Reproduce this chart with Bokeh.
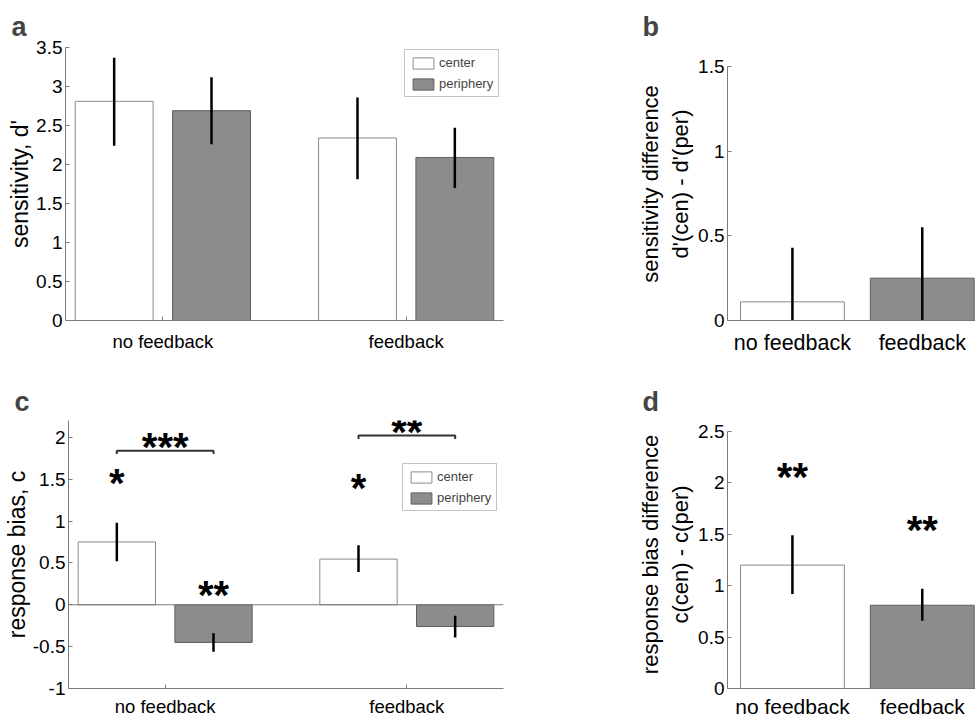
from bokeh.plotting import figure
from bokeh.layouts import row, column
from bokeh.models import Range1d, FixedTicker, CustomJSTickFormatter, Span, Legend, LegendItem
from bokeh.core.properties import value
from bokeh.embed import file_html
from bokeh.resources import INLINE

# ---------------- data ----------------
categories = ["no feedback", "feedback"]
series = ["center", "periphery"]

# panel a: sensitivity d'
dprime_center = [2.81, 2.34]
dprime_center_lo = [2.24, 1.81]
dprime_center_hi = [3.37, 2.86]
dprime_periph = [2.69, 2.09]
dprime_periph_lo = [2.26, 1.70]
dprime_periph_hi = [3.12, 2.47]

# panel b: sensitivity difference
dprime_diff = [0.11, 0.25]
dprime_diff_lo = [-0.21, -0.05]
dprime_diff_hi = [0.43, 0.55]

# panel c: response bias c
bias_center = [0.75, 0.545]
bias_center_lo = [0.52, 0.39]
bias_center_hi = [0.98, 0.71]
bias_periph = [-0.45, -0.26]
bias_periph_lo = [-0.56, -0.39]
bias_periph_hi = [-0.34, -0.13]

# panel d: response bias difference
bias_diff = [1.20, 0.81]
bias_diff_lo = [0.92, 0.66]
bias_diff_hi = [1.49, 0.97]

# significance marks
c_star_x = [0.8, 1.8, 1.2, 1.0, 2.0]
c_star_y = [1.52, 1.46, 0.19, 1.96, 2.13]
c_star_txt = ["*", "*", "**", "***", "**"]
c_bracket_x0 = [0.8, 1.8]
c_bracket_x1 = [1.2, 2.2]
c_bracket_y = [1.84, 2.02]
d_star_x = [1, 2]
d_star_y = [2.12, 1.60]
d_star_txt = ["**", "**"]

ticks_a = [0, 0.5, 1, 1.5, 2, 2.5, 3, 3.5]
ticks_b = [0, 0.5, 1, 1.5]
ticks_c = [-1, -0.5, 0, 0.5, 1, 1.5, 2]
ticks_d = [0, 0.5, 1, 1.5, 2, 2.5]

# ---------------- style ----------------
FONT = "Liberation Sans"
AXIS_COLOR = "#7a7a7a"
GRAY = "#8c8c8c"
WHITE_EDGE = "#8a8a8a"
GRAY_EDGE = "#5e5e5e"
OFF = 0.2
BW = 0.32


def make_panel(width, height, bl, br, bt, bb, xr, yr, ybounds, yticks, ylabel, ylab_size,
               ylab_standoff, letter, letter_gap, letter_shift, xlab_size, xtick_in, xlab_standoff):
    p = figure(width=width, height=height, x_range=Range1d(*xr), y_range=Range1d(*yr),
               output_backend="svg", toolbar_location=None,
               min_border_left=bl, min_border_right=br, min_border_top=bt, min_border_bottom=bb)
    p.outline_line_color = None
    p.background_fill_color = "white"
    p.border_fill_color = "white"
    p.xgrid.visible = False
    p.ygrid.visible = False
    p.title.text = letter
    p.title.text_font = FONT
    p.title.text_font_size = "27px"
    p.title.text_font_style = "bold"
    p.title.align = "left"
    p.title.offset = letter_shift
    p.title.standoff = letter_gap
    xa = p.xaxis[0]
    ya = p.yaxis[0]
    xa.ticker = FixedTicker(ticks=[1, 2])
    xa.formatter = CustomJSTickFormatter(args=dict(labels=categories),
                                         code="return labels[Math.round(tick) - 1];")
    ya.ticker = FixedTicker(ticks=yticks)
    ya.formatter = CustomJSTickFormatter(code="return String(Math.round(tick * 10) / 10);")
    ya.bounds = ybounds
    for ax in (xa, ya):
        ax.axis_line_color = AXIS_COLOR
        ax.major_tick_line_color = AXIS_COLOR
        ax.major_tick_out = 0
        ax.minor_tick_line_color = None
        ax.major_label_text_font = FONT
        ax.major_label_text_color = "black"
    xa.major_tick_in = xtick_in
    ya.major_tick_in = 4
    xa.major_label_text_font_size = xlab_size
    xa.major_label_standoff = xlab_standoff
    ya.major_label_text_font_size = "19px"
    ya.major_label_standoff = 3
    ya.axis_label = ylabel
    ya.axis_label_text_font = FONT
    ya.axis_label_text_font_size = ylab_size
    ya.axis_label_text_font_style = "normal"
    ya.axis_label_text_color = "black"
    ya.axis_label_standoff = ylab_standoff
    return p


def grouped(p, c_vals, c_lo, c_hi, p_vals, p_lo, p_hi, legend_loc):
    xc = [i + 1 - OFF for i in range(len(categories))]
    xp = [i + 1 + OFF for i in range(len(categories))]
    r1 = p.vbar(x=xc, top=c_vals, bottom=0, width=BW, fill_color="white",
                line_color=WHITE_EDGE, line_width=1)
    r2 = p.vbar(x=xp, top=p_vals, bottom=0, width=BW, fill_color=GRAY,
                line_color=GRAY_EDGE, line_width=1)
    p.segment(x0=xc, y0=c_lo, x1=xc, y1=c_hi, line_color="black", line_width=2.5)
    p.segment(x0=xp, y0=p_lo, x1=xp, y1=p_hi, line_color="black", line_width=2.5)
    leg = Legend(items=[LegendItem(label=series[0], renderers=[r1]),
                        LegendItem(label=series[1], renderers=[r2])],
                 location=legend_loc)
    leg.label_text_font = FONT
    leg.label_text_font_size = "13px"
    leg.glyph_width = 26
    leg.glyph_height = 14
    leg.label_height = 14
    leg.label_standoff = 3
    leg.spacing = 6
    leg.padding = 5
    leg.margin = 0
    leg.border_line_color = "#8a8a8a"
    leg.border_line_width = 1
    leg.background_fill_color = "white"
    leg.background_fill_alpha = 1
    p.add_layout(leg)


def single(p, vals, lo, hi):
    x = [i + 1 for i in range(len(categories))]
    p.vbar(x=[x[0]], top=[vals[0]], bottom=0, width=0.8, fill_color="white",
           line_color=WHITE_EDGE, line_width=1)
    p.vbar(x=[x[1]], top=[vals[1]], bottom=0, width=0.8, fill_color=GRAY,
           line_color=GRAY_EDGE, line_width=1)
    p.segment(x0=x, y0=lo, x1=x, y1=hi, line_color="black", line_width=2.5)


def stars(p, xs, ys, txt):
    p.text(x=xs, y=ys, text=txt, text_font=value(FONT), text_font_size="40px",
           text_font_style="bold", text_align="center", text_baseline="alphabetic",
           y_offset=6, text_color="black")


# ---------------- panel a ----------------
pa = make_panel(620, 380, 65, 117, 47, 60, (0.6, 2.4), (0, 3.5), (0, 3.5), ticks_a,
                "sensitivity, d'", "23px", 0, "a", 12, -54, "18.5px", 4, 10)
grouped(pa, dprime_center, dprime_center_lo, dprime_center_hi,
        dprime_periph, dprime_periph_lo, dprime_periph_hi, (339, 223))

# ---------------- panel b ----------------
pb = make_panel(355, 380, 107, 0, 47, 60, (0.5, 2.41), (0, 1.612), (0, 1.5), ticks_b,
                "sensitivity difference\nd'(cen) - d'(per)", "22px", 2, "b", 12, -85,
                "21.5px", 0, 10)
single(pb, dprime_diff, dprime_diff_lo, dprime_diff_hi)

# ---------------- panel c ----------------
pc = make_panel(620, 340, 65, 117, 40, 32, (0.6, 2.4), (-1, 2.2), (-1, 2.2), ticks_c,
                "response bias, c", "23px", 0, "c", 7, -54, "18.5px", 4, 7)
pc.add_layout(Span(location=0, dimension="width", line_color=AXIS_COLOR, line_width=1))
grouped(pc, bias_center, bias_center_lo, bias_center_hi,
        bias_periph, bias_periph_lo, bias_periph_hi, (334, 177))
stars(pc, c_star_x, c_star_y, c_star_txt)
for x0, x1, y in zip(c_bracket_x0, c_bracket_x1, c_bracket_y):
    pc.line(x=[x0, x0, x1, x1], y=[y - 0.04, y, y, y - 0.04], line_color="#333333", line_width=2)

# ---------------- panel d ----------------
pd_ = make_panel(355, 340, 107, 0, 40, 32, (0.5, 2.41), (0, 2.607), (0, 2.5), ticks_d,
                 "response bias difference\nc(cen) - c(per)", "22px", 2, "d", 7, -85,
                 "21px", 0, 6)
single(pd_, bias_diff, bias_diff_lo, bias_diff_hi)
stars(pd_, d_star_x, d_star_y, d_star_txt)

layout = column(row(pa, pb, spacing=0), row(pc, pd_, spacing=0), spacing=0)
open("out.html", "w").write(file_html(layout, INLINE))
